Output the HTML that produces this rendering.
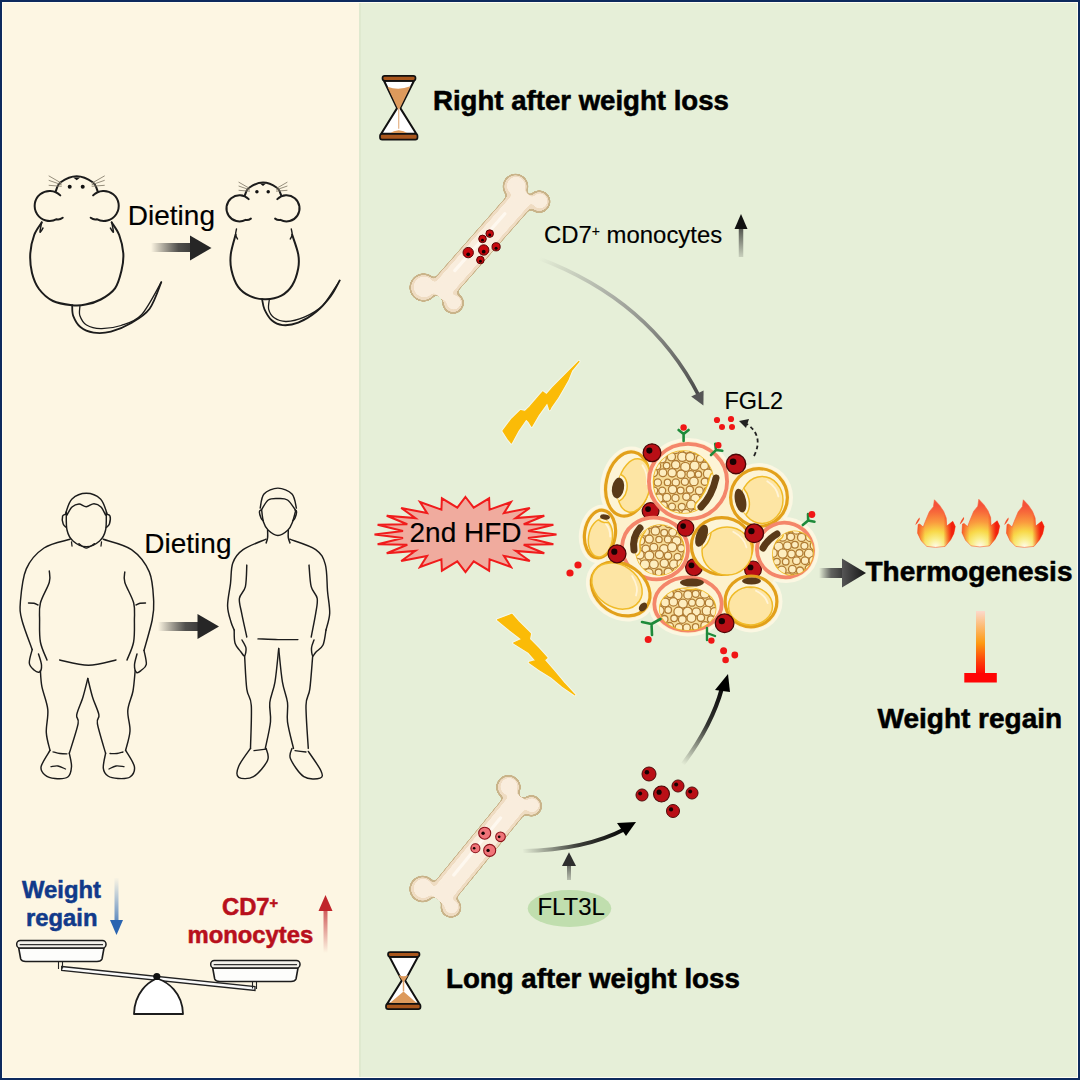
<!DOCTYPE html>
<html><head><meta charset="utf-8"><style>
html,body{margin:0;padding:0;width:1080px;height:1080px;overflow:hidden;background:#fff}
svg{display:block}
text{font-family:"Liberation Sans", sans-serif}
</style></head><body>
<svg width="1080" height="1080" viewBox="0 0 1080 1080">

<defs>
 <linearGradient id="gArrL" x1="0" x2="1" y1="0" y2="0">
  <stop offset="0" stop-color="#333" stop-opacity="0"/>
  <stop offset="0.55" stop-color="#333" stop-opacity="0.9"/>
  <stop offset="1" stop-color="#222"/>
 </linearGradient>
</defs>

<rect x="0" y="0" width="1080" height="1080" fill="#0d2a5e"/>
<rect x="2" y="2" width="1076" height="1076" fill="#fffdf2"/>
<rect x="3" y="3" width="356" height="1074" fill="#fdf6e3"/>
<rect x="359" y="3" width="718" height="1074" fill="#e6efd8"/><rect x="359" y="3" width="2" height="1074" fill="#dfe9cf"/>
<path d="M384.0,80.8 L414.0,80.8 L400.3,108.1 L416.3,133.8 L381.2,133.8 L397.09999999999997,108.1 Z" fill="#fff" stroke="#111" stroke-width="2" stroke-linejoin="round"/><path d="M387.5,86.8 Q398.7,90.8 410.5,86.3 L399.5,109.1 L397.9,109.1 Z" fill="#dd9a5c"/><line x1="398.7" y1="108.1" x2="398.7" y2="128.8" stroke="#e6b88e" stroke-width="1.3"/><path d="M389,133.8 Q398.7,126.80000000000001 408.5,133.8 Z" fill="#dd9a5c"/><rect x="382.5" y="75.8" width="33.0" height="5.0" rx="2.2" fill="#a9561c" stroke="#111" stroke-width="1.7"/><rect x="380" y="133.8" width="37.5" height="5.799999999999983" rx="2.2" fill="#a9561c" stroke="#111" stroke-width="1.7"/>
<path d="M389.5,956.8 L418.0,956.8 L405.1,980.4 L419.3,1003.8 L387.2,1003.8 L401.9,980.4 Z" fill="#fff" stroke="#111" stroke-width="2" stroke-linejoin="round"/><path d="M398.5,974.9 Q403.5,977.4 408.5,974.9 L404.5,980.9 L402.5,980.9 Z" fill="#dd9a5c"/><line x1="403.5" y1="980.4" x2="403.5" y2="991.4" stroke="#e2a46c" stroke-width="1.5"/><path d="M389,1003.8 L403.5,991.4 L417.5,1003.8 Z" fill="#dd9a5c"/><rect x="388" y="952.2" width="31.5" height="4.599999999999909" rx="2.2" fill="#a9561c" stroke="#111" stroke-width="1.7"/><rect x="386" y="1003.8" width="34.5" height="5.400000000000091" rx="2.2" fill="#a9561c" stroke="#111" stroke-width="1.7"/>
<defs><filter id="goo" x="-20%" y="-20%" width="140%" height="140%"><feGaussianBlur in="SourceGraphic" stdDeviation="2.2"/><feColorMatrix mode="matrix" values="1 0 0 0 0  0 1 0 0 0  0 0 1 0 0  0 0 0 18 -8"/></filter></defs>
<g filter="url(#goo)"><g fill="#c9b48a" stroke="#c9b48a" stroke-width="2.2" stroke-linejoin="round"><circle cx="515.5" cy="186.5" r="11.9"/><circle cx="539.2" cy="201.6" r="10.299999999999999"/><circle cx="423.5" cy="287.5" r="13.1"/><circle cx="453.1" cy="303" r="9.9"/><path d="M512.9,189.5 L512.1,209.8 L536.6,204.6 Z"/><path d="M426.1,284.5 L451.8,278.4 L455.7,300.0 Z"/><path d="M437.3,294.9 L526.6,193.3" stroke-width="26.2"/></g></g>
<g filter="url(#goo)"><g fill="#efdcc2" stroke="#efdcc2" stroke-width="0.4" stroke-linejoin="round"><circle cx="515.5" cy="186.5" r="11.0"/><circle cx="539.2" cy="201.6" r="9.399999999999999"/><circle cx="423.5" cy="287.5" r="12.2"/><circle cx="453.1" cy="303" r="9.0"/><path d="M512.9,189.5 L512.1,209.8 L536.6,204.6 Z"/><path d="M426.1,284.5 L451.8,278.4 L455.7,300.0 Z"/><path d="M437.3,294.9 L526.6,193.3" stroke-width="24.4"/></g></g>
<g filter="url(#goo)"><g fill="#f9eddd" stroke="#f9eddd"><circle cx="516.1" cy="185.9" r="8.8"/><circle cx="539.8000000000001" cy="201.0" r="7.199999999999999"/><circle cx="424.1" cy="286.9" r="10"/><circle cx="453.70000000000005" cy="302.4" r="6.800000000000001"/><path d="M437.3,294.9 L526.6,193.3" stroke-width="19"/></g></g>
<path d="M454.8,270.6 L504.8,213.8" stroke="#fffaf3" stroke-width="3.2" stroke-linecap="round" opacity="0.85"/>
<circle cx="489.7" cy="233.6" r="3.8" fill="#c8080e" stroke="#5a0505" stroke-width="1"/><circle cx="489.7" cy="234.89" r="1.42" fill="#120202"/>
<circle cx="482.5" cy="238.9" r="3.8" fill="#c8080e" stroke="#5a0505" stroke-width="1"/><circle cx="482.5" cy="240.19" r="1.42" fill="#120202"/>
<circle cx="483.7" cy="250" r="5.2" fill="#c8080e" stroke="#5a0505" stroke-width="1"/><circle cx="483.7" cy="251.71" r="1.88" fill="#120202"/>
<circle cx="468.2" cy="252.6" r="5.2" fill="#c8080e" stroke="#5a0505" stroke-width="1"/><circle cx="468.2" cy="254.31" r="1.88" fill="#120202"/>
<circle cx="496.1" cy="246.8" r="4.1" fill="#c8080e" stroke="#5a0505" stroke-width="1"/><circle cx="496.1" cy="248.18" r="1.52" fill="#120202"/>
<circle cx="480.4" cy="260" r="3.8" fill="#c8080e" stroke="#5a0505" stroke-width="1"/><circle cx="480.4" cy="261.29" r="1.42" fill="#120202"/>
<g filter="url(#goo)"><g fill="#c9b48a" stroke="#c9b48a" stroke-width="2.2" stroke-linejoin="round"><circle cx="508.4" cy="787.2" r="11.299999999999999"/><circle cx="531.4" cy="805.9" r="9.7"/><circle cx="422.6" cy="889" r="12.299999999999999"/><circle cx="451" cy="907.4" r="9.5"/><path d="M505.9,790.3 L507.2,814.4 L528.9,809.0 Z"/><path d="M425.1,885.9 L451.7,882.4 L453.5,904.3 Z"/><path d="M437.8,899.4 L521.1,797.4" stroke-width="27.2"/></g></g>
<g filter="url(#goo)"><g fill="#efdcc2" stroke="#efdcc2" stroke-width="0.4" stroke-linejoin="round"><circle cx="508.4" cy="787.2" r="10.399999999999999"/><circle cx="531.4" cy="805.9" r="8.799999999999999"/><circle cx="422.6" cy="889" r="11.399999999999999"/><circle cx="451" cy="907.4" r="8.6"/><path d="M505.9,790.3 L507.2,814.4 L528.9,809.0 Z"/><path d="M425.1,885.9 L451.7,882.4 L453.5,904.3 Z"/><path d="M437.8,899.4 L521.1,797.4" stroke-width="25.4"/></g></g>
<g filter="url(#goo)"><g fill="#f9eddd" stroke="#f9eddd"><circle cx="509.0" cy="786.6" r="8.2"/><circle cx="532.0" cy="805.3" r="6.6"/><circle cx="423.20000000000005" cy="888.4" r="9.2"/><circle cx="451.6" cy="906.8" r="6.4"/><path d="M437.8,899.4 L521.1,797.4" stroke-width="20"/></g></g>
<path d="M453.8,875.1 L500.5,817.9" stroke="#fffaf3" stroke-width="3.2" stroke-linecap="round" opacity="0.85"/>
<circle cx="484.7" cy="833.2" r="6.0" fill="#f07479" stroke="#8a1018" stroke-width="1.1"/><circle cx="483.07" cy="833.20" r="1.69" fill="#120202"/>
<circle cx="500.5" cy="836.8" r="4.8" fill="#f07479" stroke="#8a1018" stroke-width="1.1"/><circle cx="499.18" cy="836.80" r="1.38" fill="#120202"/>
<circle cx="475.4" cy="848.3" r="4.5" fill="#f07479" stroke="#8a1018" stroke-width="1.1"/><circle cx="474.15" cy="848.30" r="1.30" fill="#120202"/>
<circle cx="489.7" cy="850.4" r="6.0" fill="#f07479" stroke="#8a1018" stroke-width="1.1"/><circle cx="488.07" cy="850.40" r="1.69" fill="#120202"/>
<defs>
<linearGradient id="gA1" gradientUnits="userSpaceOnUse" x1="540" y1="258" x2="700" y2="400">
 <stop offset="0" stop-color="#777" stop-opacity="0"/><stop offset="0.35" stop-color="#888" stop-opacity="0.6"/><stop offset="1" stop-color="#444"/></linearGradient>
<linearGradient id="gUp1" gradientUnits="userSpaceOnUse" x1="0" y1="257" x2="0" y2="214">
 <stop offset="0" stop-color="#222" stop-opacity="0.15"/><stop offset="1" stop-color="#111"/></linearGradient>
<linearGradient id="gA2" gradientUnits="userSpaceOnUse" x1="522" y1="850" x2="630" y2="825">
 <stop offset="0" stop-color="#111" stop-opacity="0"/><stop offset="0.5" stop-color="#111" stop-opacity="0.8"/><stop offset="1" stop-color="#000"/></linearGradient>
<linearGradient id="gA3" gradientUnits="userSpaceOnUse" x1="683" y1="765" x2="725" y2="680">
 <stop offset="0" stop-color="#111" stop-opacity="0"/><stop offset="0.5" stop-color="#111" stop-opacity="0.85"/><stop offset="1" stop-color="#000"/></linearGradient>
<linearGradient id="gUp2" gradientUnits="userSpaceOnUse" x1="0" y1="882" x2="0" y2="853">
 <stop offset="0" stop-color="#333" stop-opacity="0.2"/><stop offset="1" stop-color="#222"/></linearGradient>
<linearGradient id="gRt" gradientUnits="userSpaceOnUse" x1="819" y1="0" x2="843" y2="0">
 <stop offset="0" stop-color="#444" stop-opacity="0"/><stop offset="0.5" stop-color="#4a4a4a" stop-opacity="0.85"/><stop offset="1" stop-color="#3a3a3a"/></linearGradient>
<linearGradient id="gInh" gradientUnits="userSpaceOnUse" x1="0" y1="611" x2="0" y2="675">
 <stop offset="0" stop-color="#fcd9cc"/><stop offset="0.5" stop-color="#fd9a12"/><stop offset="0.8" stop-color="#fd3a0a"/><stop offset="1" stop-color="#ff0404"/></linearGradient>
<linearGradient id="gDietM" gradientUnits="userSpaceOnUse" x1="151" y1="0" x2="212" y2="0">
 <stop offset="0" stop-color="#222" stop-opacity="0"/><stop offset="0.45" stop-color="#333" stop-opacity="0.85"/><stop offset="1" stop-color="#1a1a1a"/></linearGradient>
<linearGradient id="gDietP" gradientUnits="userSpaceOnUse" x1="158" y1="0" x2="219" y2="0">
 <stop offset="0" stop-color="#222" stop-opacity="0"/><stop offset="0.45" stop-color="#333" stop-opacity="0.85"/><stop offset="1" stop-color="#1a1a1a"/></linearGradient>
<linearGradient id="gBlue" gradientUnits="userSpaceOnUse" x1="0" y1="877" x2="0" y2="935">
 <stop offset="0" stop-color="#3a78c0" stop-opacity="0"/><stop offset="1" stop-color="#2a64b0"/></linearGradient>
<linearGradient id="gRed" gradientUnits="userSpaceOnUse" x1="0" y1="953" x2="0" y2="895">
 <stop offset="0" stop-color="#c0252b" stop-opacity="0"/><stop offset="1" stop-color="#c0252b"/></linearGradient>
</defs>
<path d="M538,258 Q650,300 699,396" fill="none" stroke="url(#gA1)" stroke-width="3.6"/>
<path d="M703.4,405.5 L691.2,396.5 L703.6,390.6 Z" fill="#555"/>
<path d="M741,257 L741,226" stroke="url(#gUp1)" stroke-width="4.5"/><path d="M734.5,229 L741,214 L747.5,229 Z" fill="#111"/>
<path d="M523,851 Q585,850 625,829" fill="none" stroke="url(#gA2)" stroke-width="4"/>
<path d="M636,822 L617,823 L626,836 Z" fill="#000"/>
<path d="M569,880 L569,864" stroke="url(#gUp2)" stroke-width="4"/><path d="M562,866 L569,852.2 L576,866 Z" fill="#2e2e2e"/>
<path d="M683,764 Q712,725 722,688" fill="none" stroke="url(#gA3)" stroke-width="4.2"/>
<path d="M728,674 L715,690 L730,692 Z" fill="#000"/>
<ellipse cx="569.5" cy="908.5" rx="41.8" ry="18.5" fill="#c0deae"/>
<circle cx="649" cy="774" r="7.01" fill="#b90f16" stroke="#4a0606" stroke-width="0.98"/><circle cx="646.90" cy="772.35" r="2.25" fill="#160303"/>
<circle cx="642" cy="795" r="6.05" fill="#b90f16" stroke="#4a0606" stroke-width="0.90"/><circle cx="640.18" cy="793.57" r="1.95" fill="#160303"/>
<circle cx="661.5" cy="794" r="7.95" fill="#b90f16" stroke="#4a0606" stroke-width="1.10"/><circle cx="659.12" cy="792.13" r="2.55" fill="#160303"/>
<circle cx="678" cy="786" r="6.05" fill="#b90f16" stroke="#4a0606" stroke-width="0.90"/><circle cx="676.18" cy="784.57" r="1.95" fill="#160303"/>
<circle cx="692" cy="793" r="6.05" fill="#b90f16" stroke="#4a0606" stroke-width="0.90"/><circle cx="690.18" cy="791.57" r="1.95" fill="#160303"/>
<circle cx="673" cy="811" r="6.54" fill="#b90f16" stroke="#4a0606" stroke-width="0.91"/><circle cx="671.04" cy="809.46" r="2.10" fill="#160303"/>
<defs><linearGradient id="gRtH" gradientUnits="userSpaceOnUse" x1="842" y1="0" x2="866" y2="0"><stop offset="0" stop-color="#555"/><stop offset="1" stop-color="#151515"/></linearGradient></defs>
<path d="M819,568 L843,568 L843,578 L819,578 Z" fill="url(#gRt)"/><path d="M842,558.5 L866,573 L842,587.5 Z" fill="url(#gRtH)"/>
<rect x="976" y="611" width="9" height="64" fill="url(#gInh)"/><rect x="964.3" y="673" width="32.5" height="9.5" fill="#ff0505"/>
<path d="M151,243 L192,243 L192,252 L151,252 Z" fill="url(#gDietM)"/><path d="M190,235.5 L211.5,248 L190,260.5 Z" fill="#262626"/>
<path d="M158,622 L199,622 L199,631 L158,631 Z" fill="url(#gDietP)"/><path d="M197.5,614 L219,626.5 L197.5,639 Z" fill="#262626"/>
<path d="M116.5,878 L116.5,922" stroke="url(#gBlue)" stroke-width="4"/><path d="M110,920 L116.5,935 L123,920 Z" fill="#2a64b0"/>
<path d="M325.5,953 L325.5,908" stroke="url(#gRed)" stroke-width="4"/><path d="M318.5,911 L325.5,895 L332.5,911 Z" fill="#c0252b"/>
<polygon points="465.5,497.0 473.7,507.7 489.1,498.3 489.6,509.6 511.0,502.0 503.9,513.1 529.8,508.0 515.5,518.1 544.3,515.8 523.7,524.2 553.4,524.8 528.0,531.0 556.5,534.5 528.0,538.0 553.4,544.2 523.7,544.8 544.3,553.2 515.5,550.9 529.8,561.0 503.9,555.9 511.0,567.0 489.6,559.4 489.1,570.7 473.7,561.3 465.5,572.0 457.3,561.3 441.9,570.7 441.4,559.4 420.0,567.0 427.1,555.9 401.2,561.0 415.5,550.9 386.7,553.2 407.3,544.8 377.6,544.2 403.0,538.0 374.5,534.5 403.0,531.0 377.6,524.8 407.3,524.2 386.7,515.8 415.5,518.1 401.2,508.0 427.1,513.1 420.0,502.0 441.4,509.6 441.9,498.3 457.3,507.7" fill="#f0ab9e" stroke="#f01c1c" stroke-width="2" stroke-linejoin="miter"/>
<polygon points="578.9,361.5 571.5,370.7 567.8,380 563.1,388.3 557.6,397.6 551.1,406.9 549.7,409.6 547.4,402.2 538.1,415.2 531.7,426.3 528.9,421.7 526.1,418.9 517.8,430.9 511.3,443 507.6,438.3 503,430.9 511.3,419.8 520.6,410.6 525.2,411.5 529.8,406.9 536.3,399.4 542.8,392 546.5,394.8 553,387.4 562.2,378.1 570.6,369.8" fill="#f4f7ea" stroke="#f4f7ea" stroke-width="3.2" stroke-linejoin="round"/>
<polygon points="578.9,361.5 571.5,370.7 567.8,380 563.1,388.3 557.6,397.6 551.1,406.9 549.7,409.6 547.4,402.2 538.1,415.2 531.7,426.3 528.9,421.7 526.1,418.9 517.8,430.9 511.3,443 507.6,438.3 503,430.9 511.3,419.8 520.6,410.6 525.2,411.5 529.8,406.9 536.3,399.4 542.8,392 546.5,394.8 553,387.4 562.2,378.1 570.6,369.8" fill="#fbbb07" stroke="#fbbb07" stroke-width="1.2" stroke-linejoin="round"/>
<polygon points="497.5,619.8 511.9,614.3 518.3,621.7 530.4,633.7 529.4,639.3 537.8,647.6 547,657.8 544.3,660.1 553.5,670.7 563.7,682.8 574.8,694.8 562.8,686.5 551.7,677.2 539.6,669.8 529.4,662.4 535.9,660.6 528.5,652.2 513.7,643 522,639.3 510,630" fill="#f4f7ea" stroke="#f4f7ea" stroke-width="3.2" stroke-linejoin="round"/>
<polygon points="497.5,619.8 511.9,614.3 518.3,621.7 530.4,633.7 529.4,639.3 537.8,647.6 547,657.8 544.3,660.1 553.5,670.7 563.7,682.8 574.8,694.8 562.8,686.5 551.7,677.2 539.6,669.8 529.4,662.4 535.9,660.6 528.5,652.2 513.7,643 522,639.3 510,630" fill="#fbbb07" stroke="#fbbb07" stroke-width="1.2" stroke-linejoin="round"/>
<defs><radialGradient id="gFl" cx="0.48" cy="0.92" r="0.9" fx="0.48" fy="0.95">
<stop offset="0" stop-color="#fffbe8"/><stop offset="0.18" stop-color="#fff07a"/><stop offset="0.42" stop-color="#fdb340"/><stop offset="0.7" stop-color="#f8703a"/><stop offset="1" stop-color="#f03a22"/></radialGradient>
<linearGradient id="gFlS" x1="0" y1="0" x2="1" y2="0"><stop offset="0" stop-color="#f55"/><stop offset="1" stop-color="#f22"/></linearGradient></defs>
<defs><radialGradient id="gFl2" gradientUnits="userSpaceOnUse" cx="21" cy="46" r="40" fx="21" fy="47">
<stop offset="0" stop-color="#fffbea"/><stop offset="0.2" stop-color="#f9ee8a"/><stop offset="0.38" stop-color="#f8d848"/><stop offset="0.6" stop-color="#fa9a3e"/><stop offset="0.85" stop-color="#f7683a"/><stop offset="1" stop-color="#f5523a"/></radialGradient>
<linearGradient id="gFlR" gradientUnits="userSpaceOnUse" x1="0" y1="0" x2="41" y2="0"><stop offset="0" stop-color="#f53a1a" stop-opacity="0.9"/><stop offset="0.25" stop-color="#f53a1a" stop-opacity="0"/><stop offset="0.7" stop-color="#f21a0a" stop-opacity="0"/><stop offset="0.9" stop-color="#f21a0a" stop-opacity="0.95"/></linearGradient></defs>
<g transform="translate(914.7,499.7)"><path d="M19.7,0.1 L24.8,5.5 L28.9,11.6 L31.5,18.2 L32,26.4 L38.1,21.5 L40.6,26.9 L39.1,34 L36,40.1 L30.4,46.7 L20.8,47.7 L12.1,46.7 L6.5,41.1 L2.9,33.5 L3.4,24.8 L5,24.3 L8.5,27.4 L10.6,21.8 L14.6,12.1 L18.7,7 Z" fill="url(#gFl2)" stroke="#f8623a" stroke-width="0.6" stroke-linejoin="round"/><path d="M19.7,0.1 L24.8,5.5 L28.9,11.6 L31.5,18.2 L32,26.4 L38.1,21.5 L40.6,26.9 L39.1,34 L36,40.1 L30.4,46.7 L20.8,47.7 L12.1,46.7 L6.5,41.1 L2.9,33.5 L3.4,24.8 L5,24.3 L8.5,27.4 L10.6,21.8 L14.6,12.1 L18.7,7 Z" fill="url(#gFlR)"/><path d="M0.6,25.3 C1.5,22 3,19.5 4.8,17.8 C5.6,19.5 4,22.5 0.6,25.3 Z" fill="#f4502a"/></g>
<g transform="translate(959.1,499.2)"><path d="M19.7,0.1 L24.8,5.5 L28.9,11.6 L31.5,18.2 L32,26.4 L38.1,21.5 L40.6,26.9 L39.1,34 L36,40.1 L30.4,46.7 L20.8,47.7 L12.1,46.7 L6.5,41.1 L2.9,33.5 L3.4,24.8 L5,24.3 L8.5,27.4 L10.6,21.8 L14.6,12.1 L18.7,7 Z" fill="url(#gFl2)" stroke="#f8623a" stroke-width="0.6" stroke-linejoin="round"/><path d="M19.7,0.1 L24.8,5.5 L28.9,11.6 L31.5,18.2 L32,26.4 L38.1,21.5 L40.6,26.9 L39.1,34 L36,40.1 L30.4,46.7 L20.8,47.7 L12.1,46.7 L6.5,41.1 L2.9,33.5 L3.4,24.8 L5,24.3 L8.5,27.4 L10.6,21.8 L14.6,12.1 L18.7,7 Z" fill="url(#gFlR)"/><path d="M0.6,25.3 C1.5,22 3,19.5 4.8,17.8 C5.6,19.5 4,22.5 0.6,25.3 Z" fill="#f4502a"/></g>
<g transform="translate(1003.6,499.7)"><path d="M19.7,0.1 L24.8,5.5 L28.9,11.6 L31.5,18.2 L32,26.4 L38.1,21.5 L40.6,26.9 L39.1,34 L36,40.1 L30.4,46.7 L20.8,47.7 L12.1,46.7 L6.5,41.1 L2.9,33.5 L3.4,24.8 L5,24.3 L8.5,27.4 L10.6,21.8 L14.6,12.1 L18.7,7 Z" fill="url(#gFl2)" stroke="#f8623a" stroke-width="0.6" stroke-linejoin="round"/><path d="M19.7,0.1 L24.8,5.5 L28.9,11.6 L31.5,18.2 L32,26.4 L38.1,21.5 L40.6,26.9 L39.1,34 L36,40.1 L30.4,46.7 L20.8,47.7 L12.1,46.7 L6.5,41.1 L2.9,33.5 L3.4,24.8 L5,24.3 L8.5,27.4 L10.6,21.8 L14.6,12.1 L18.7,7 Z" fill="url(#gFlR)"/><path d="M0.6,25.3 C1.5,22 3,19.5 4.8,17.8 C5.6,19.5 4,22.5 0.6,25.3 Z" fill="#f4502a"/></g>
<g fill="#fbf7e2"><ellipse cx="627.6" cy="484" rx="27" ry="38" transform="rotate(12 627.6 484)"/><ellipse cx="688" cy="481.5" rx="45" ry="43.5" transform="rotate(0 688 481.5)"/><ellipse cx="759" cy="497.5" rx="34" ry="34.5" transform="rotate(0 759 497.5)"/><ellipse cx="600" cy="534" rx="21" ry="29.5" transform="rotate(8 600 534)"/><ellipse cx="655" cy="548.5" rx="39" ry="36.5" transform="rotate(15 655 548.5)"/><ellipse cx="721.8" cy="546" rx="36" ry="34" transform="rotate(0 721.8 546)"/><ellipse cx="785" cy="550" rx="34" ry="33" transform="rotate(20 785 550)"/><ellipse cx="620.7" cy="589" rx="37" ry="30" transform="rotate(35 620.7 589)"/><ellipse cx="688" cy="604" rx="39.6" ry="32.5" transform="rotate(0 688 604)"/><ellipse cx="751" cy="601.4" rx="31.5" ry="31" transform="rotate(0 751 601.4)"/></g>
<ellipse cx="695" cy="540" rx="92" ry="78" fill="#fdf1cc"/>
<g fill="#fdf1cc"><ellipse cx="627.6" cy="484" rx="24" ry="35" transform="rotate(12 627.6 484)"/><ellipse cx="688" cy="481.5" rx="42" ry="40.5" transform="rotate(0 688 481.5)"/><ellipse cx="759" cy="497.5" rx="31" ry="31.5" transform="rotate(0 759 497.5)"/><ellipse cx="600" cy="534" rx="18" ry="26.5" transform="rotate(8 600 534)"/><ellipse cx="655" cy="548.5" rx="36" ry="33.5" transform="rotate(15 655 548.5)"/><ellipse cx="721.8" cy="546" rx="33" ry="31" transform="rotate(0 721.8 546)"/><ellipse cx="785" cy="550" rx="31" ry="30" transform="rotate(20 785 550)"/><ellipse cx="620.7" cy="589" rx="34" ry="27" transform="rotate(35 620.7 589)"/><ellipse cx="688" cy="604" rx="36.6" ry="29.5" transform="rotate(0 688 604)"/><ellipse cx="751" cy="601.4" rx="28.5" ry="28" transform="rotate(0 751 601.4)"/></g>
<circle cx="650.6" cy="511" r="8.41" fill="#b90f16" stroke="#4a0606" stroke-width="1.17"/><circle cx="648.08" cy="509.02" r="2.88" fill="#160303"/>
<circle cx="694" cy="567.3" r="8.41" fill="#b90f16" stroke="#4a0606" stroke-width="1.17"/><circle cx="691.48" cy="565.32" r="2.88" fill="#160303"/>
<circle cx="753" cy="569.4" r="8.41" fill="#b90f16" stroke="#4a0606" stroke-width="1.17"/><circle cx="750.48" cy="567.42" r="2.88" fill="#160303"/>
<ellipse cx="627.6" cy="484" rx="21.4" ry="32.4" transform="rotate(12 627.6 484)" fill="#fdf4d6" stroke="#e2a01a" stroke-width="3.2"/>
<clipPath id="clipD0"><ellipse cx="634" cy="485.5" rx="16" ry="27" transform="rotate(12 634 485.5)"/></clipPath>
<ellipse cx="634" cy="485.5" rx="16" ry="27" transform="rotate(12 634 485.5)" fill="#fde5a4" stroke="#f0bb28" stroke-width="1.5"/>
<path d="M638.0,463.9 Q645.2,470.65 646.48,481.45" fill="none" stroke="#fff4d8" stroke-width="1.8" stroke-linecap="round" transform="rotate(12 634 485.5)"/>
<g clip-path="url(#clipD0)"><ellipse cx="618" cy="488" rx="9" ry="13.5" transform="rotate(10 618 488)" fill="#fdf4d6" stroke="#f0bb28" stroke-width="1.5"/></g>
<ellipse cx="618" cy="488" rx="6" ry="10.5" transform="rotate(10 618 488)" fill="#5a3a18"/>
<ellipse cx="688" cy="481.5" rx="39.1" ry="37.6" transform="rotate(0 688 481.5)" fill="#fdf4d6" stroke="#f4866a" stroke-width="3.8"/>
<clipPath id="clipD1"><ellipse cx="683.5" cy="482" rx="30" ry="31" transform="rotate(0 683.5 482)"/></clipPath>
<ellipse cx="683.5" cy="482" rx="30" ry="31" transform="rotate(0 683.5 482)" fill="#f6dc98" stroke="#f0bb28" stroke-width="1.5"/>
<g clip-path="url(#clipD1)" fill="#fdedbf" stroke="#b07c34" stroke-width="1.3"><circle cx="644.4" cy="441.5" r="3.6"/><circle cx="653.8" cy="440.8" r="4.2"/><circle cx="663.5" cy="441.2" r="3.2"/><circle cx="673.1" cy="441.7" r="3.6"/><circle cx="681.0" cy="442.1" r="4.5"/><circle cx="690.6" cy="442.7" r="3.4"/><circle cx="700.1" cy="442.2" r="4.0"/><circle cx="709.3" cy="442.0" r="3.3"/><circle cx="716.8" cy="442.7" r="3.7"/><circle cx="649.4" cy="450.7" r="4.0"/><circle cx="659.1" cy="449.6" r="4.3"/><circle cx="667.2" cy="450.8" r="4.5"/><circle cx="675.5" cy="448.9" r="4.6"/><circle cx="686.8" cy="449.7" r="3.5"/><circle cx="694.4" cy="449.8" r="4.2"/><circle cx="703.7" cy="450.0" r="3.8"/><circle cx="714.3" cy="450.2" r="4.1"/><circle cx="723.4" cy="451.0" r="4.7"/><circle cx="643.5" cy="458.7" r="4.3"/><circle cx="654.5" cy="458.0" r="4.7"/><circle cx="662.0" cy="458.6" r="4.3"/><circle cx="671.4" cy="456.8" r="4.1"/><circle cx="682.3" cy="456.8" r="4.6"/><circle cx="690.1" cy="457.0" r="4.5"/><circle cx="700.1" cy="458.7" r="3.7"/><circle cx="709.0" cy="456.7" r="3.3"/><circle cx="717.5" cy="458.7" r="4.3"/><circle cx="648.9" cy="467.0" r="4.8"/><circle cx="657.1" cy="466.1" r="3.7"/><circle cx="666.6" cy="465.6" r="3.3"/><circle cx="675.7" cy="464.7" r="4.2"/><circle cx="685.3" cy="466.9" r="4.6"/><circle cx="694.6" cy="465.7" r="4.6"/><circle cx="704.4" cy="466.0" r="4.0"/><circle cx="713.6" cy="466.9" r="4.1"/><circle cx="722.3" cy="466.3" r="4.0"/><circle cx="643.8" cy="475.0" r="3.6"/><circle cx="653.6" cy="472.6" r="4.0"/><circle cx="662.9" cy="472.7" r="3.9"/><circle cx="672.2" cy="472.8" r="4.2"/><circle cx="681.0" cy="474.2" r="4.2"/><circle cx="690.8" cy="474.4" r="3.8"/><circle cx="698.4" cy="474.2" r="3.2"/><circle cx="708.1" cy="473.7" r="4.7"/><circle cx="717.5" cy="473.5" r="4.1"/><circle cx="648.6" cy="482.0" r="3.7"/><circle cx="657.8" cy="482.5" r="3.7"/><circle cx="667.5" cy="482.4" r="3.2"/><circle cx="675.8" cy="482.5" r="3.7"/><circle cx="684.9" cy="481.7" r="3.6"/><circle cx="693.9" cy="481.4" r="4.3"/><circle cx="704.9" cy="481.7" r="3.7"/><circle cx="712.5" cy="481.4" r="4.6"/><circle cx="723.4" cy="481.7" r="4.2"/><circle cx="643.4" cy="489.9" r="3.6"/><circle cx="654.2" cy="490.6" r="3.5"/><circle cx="662.2" cy="490.6" r="3.5"/><circle cx="672.6" cy="489.5" r="4.2"/><circle cx="680.6" cy="490.5" r="3.4"/><circle cx="689.9" cy="489.6" r="3.6"/><circle cx="699.3" cy="490.8" r="3.9"/><circle cx="707.5" cy="490.9" r="3.4"/><circle cx="719.1" cy="489.7" r="4.6"/><circle cx="649.9" cy="497.2" r="4.7"/><circle cx="658.9" cy="498.2" r="4.4"/><circle cx="666.8" cy="497.4" r="4.0"/><circle cx="675.5" cy="498.0" r="3.6"/><circle cx="686.4" cy="496.7" r="3.7"/><circle cx="695.4" cy="498.8" r="4.6"/><circle cx="705.1" cy="498.0" r="4.6"/><circle cx="713.9" cy="497.0" r="3.2"/><circle cx="722.9" cy="497.9" r="3.7"/><circle cx="645.4" cy="506.1" r="3.9"/><circle cx="652.9" cy="506.7" r="3.7"/><circle cx="663.4" cy="505.5" r="4.0"/><circle cx="672.0" cy="506.6" r="3.5"/><circle cx="681.8" cy="506.8" r="3.5"/><circle cx="691.1" cy="504.7" r="4.5"/><circle cx="700.4" cy="504.8" r="4.2"/><circle cx="708.1" cy="505.9" r="3.6"/><circle cx="717.8" cy="506.5" r="3.9"/><circle cx="647.8" cy="512.9" r="3.2"/><circle cx="657.1" cy="515.0" r="3.4"/><circle cx="666.3" cy="513.8" r="4.6"/><circle cx="676.1" cy="513.5" r="3.7"/><circle cx="685.9" cy="513.5" r="4.2"/><circle cx="694.5" cy="512.9" r="3.5"/><circle cx="704.6" cy="513.5" r="4.1"/><circle cx="712.5" cy="513.5" r="3.3"/><circle cx="723.2" cy="513.5" r="4.2"/><circle cx="644.6" cy="521.7" r="4.5"/><circle cx="653.5" cy="522.3" r="3.8"/><circle cx="663.2" cy="521.7" r="3.9"/><circle cx="672.0" cy="522.3" r="3.6"/><circle cx="680.9" cy="521.7" r="3.3"/><circle cx="691.3" cy="521.5" r="4.6"/><circle cx="700.2" cy="521.3" r="4.6"/><circle cx="707.8" cy="522.6" r="3.9"/><circle cx="718.8" cy="522.5" r="4.3"/></g>
<g clip-path="url(#clipD1)"><path d="M716,478 Q712,496 701,507" fill="none" stroke="#f0bb28" stroke-width="14" stroke-linecap="round"/><path d="M716,478 Q712,496 701,507" fill="none" stroke="#fdf4d6" stroke-width="11" stroke-linecap="round"/></g>
<path d="M716,478 Q712,496 701,507" fill="none" stroke="#5a3a18" stroke-width="7" stroke-linecap="round"/>
<ellipse cx="759" cy="497.5" rx="28.4" ry="28.9" transform="rotate(0 759 497.5)" fill="#fdf4d6" stroke="#e2a01a" stroke-width="3.2"/>
<clipPath id="clipD2"><ellipse cx="762" cy="500" rx="21" ry="23.5" transform="rotate(0 762 500)"/></clipPath>
<ellipse cx="762" cy="500" rx="21" ry="23.5" transform="rotate(0 762 500)" fill="#fde5a4" stroke="#f0bb28" stroke-width="1.5"/>
<path d="M767.25,481.2 Q776.7,487.075 778.38,496.475" fill="none" stroke="#fff4d8" stroke-width="1.8" stroke-linecap="round" transform="rotate(0 762 500)"/>
<g clip-path="url(#clipD2)"><ellipse cx="740.5" cy="500.6" rx="8.5" ry="15" transform="rotate(-12 740.5 500.6)" fill="#fdf4d6" stroke="#f0bb28" stroke-width="1.5"/></g>
<ellipse cx="740.5" cy="500.6" rx="5.5" ry="12" transform="rotate(-12 740.5 500.6)" fill="#5a3a18"/>
<ellipse cx="600" cy="534" rx="15.4" ry="23.9" transform="rotate(8 600 534)" fill="#fdf4d6" stroke="#e2a01a" stroke-width="3.2"/>
<clipPath id="clipD3"><ellipse cx="600.5" cy="538" rx="12" ry="19" transform="rotate(8 600.5 538)"/></clipPath>
<ellipse cx="600.5" cy="538" rx="12" ry="19" transform="rotate(8 600.5 538)" fill="#fde5a4" stroke="#f0bb28" stroke-width="1.5"/>
<path d="M603.5,522.8 Q608.9,527.55 609.86,535.15" fill="none" stroke="#fff4d8" stroke-width="1.8" stroke-linecap="round" transform="rotate(8 600.5 538)"/>
<g clip-path="url(#clipD3)"><ellipse cx="605" cy="517" rx="8" ry="5.5" transform="rotate(10 605 517)" fill="#fdf4d6" stroke="#f0bb28" stroke-width="1.5"/></g>
<ellipse cx="605" cy="517" rx="5" ry="2.5" transform="rotate(10 605 517)" fill="#5a3a18"/>
<ellipse cx="655" cy="548.5" rx="33.1" ry="30.6" transform="rotate(15 655 548.5)" fill="#fdf4d6" stroke="#f4866a" stroke-width="3.8"/>
<clipPath id="clipD4"><ellipse cx="660" cy="550" rx="24" ry="25" transform="rotate(15 660 550)"/></clipPath>
<ellipse cx="660" cy="550" rx="24" ry="25" transform="rotate(15 660 550)" fill="#f6dc98" stroke="#f0bb28" stroke-width="1.5"/>
<g clip-path="url(#clipD4)" fill="#fdedbf" stroke="#b07c34" stroke-width="1.3"><circle cx="627.4" cy="516.0" r="4.3"/><circle cx="636.2" cy="514.6" r="3.4"/><circle cx="645.9" cy="514.7" r="3.4"/><circle cx="653.4" cy="516.7" r="3.3"/><circle cx="662.5" cy="516.6" r="3.5"/><circle cx="673.6" cy="516.2" r="3.4"/><circle cx="683.1" cy="516.0" r="4.5"/><circle cx="690.1" cy="516.4" r="4.5"/><circle cx="631.9" cy="522.9" r="4.0"/><circle cx="641.6" cy="522.8" r="4.4"/><circle cx="650.0" cy="524.6" r="3.7"/><circle cx="658.2" cy="523.2" r="3.6"/><circle cx="668.8" cy="523.5" r="4.2"/><circle cx="677.2" cy="523.4" r="3.8"/><circle cx="685.6" cy="523.8" r="3.9"/><circle cx="626.6" cy="532.4" r="4.8"/><circle cx="636.5" cy="532.4" r="3.5"/><circle cx="645.2" cy="531.8" r="4.3"/><circle cx="655.4" cy="531.0" r="4.2"/><circle cx="664.2" cy="532.8" r="3.4"/><circle cx="672.7" cy="532.3" r="4.0"/><circle cx="681.4" cy="531.1" r="3.5"/><circle cx="690.8" cy="531.2" r="4.1"/><circle cx="632.5" cy="539.3" r="4.3"/><circle cx="640.4" cy="540.7" r="4.3"/><circle cx="649.2" cy="539.1" r="4.1"/><circle cx="659.0" cy="539.5" r="3.2"/><circle cx="667.9" cy="539.4" r="3.5"/><circle cx="676.5" cy="541.0" r="4.4"/><circle cx="686.8" cy="539.7" r="4.0"/><circle cx="627.6" cy="548.0" r="4.5"/><circle cx="636.5" cy="548.7" r="4.0"/><circle cx="645.8" cy="548.9" r="3.8"/><circle cx="653.8" cy="547.2" r="3.9"/><circle cx="664.0" cy="548.9" r="4.3"/><circle cx="672.2" cy="547.1" r="4.6"/><circle cx="681.2" cy="548.3" r="3.6"/><circle cx="692.2" cy="547.2" r="4.6"/><circle cx="631.0" cy="555.6" r="4.6"/><circle cx="639.6" cy="554.8" r="4.4"/><circle cx="649.3" cy="555.5" r="4.5"/><circle cx="659.4" cy="554.6" r="4.1"/><circle cx="668.0" cy="555.8" r="3.7"/><circle cx="677.6" cy="556.9" r="3.5"/><circle cx="686.7" cy="554.9" r="3.8"/><circle cx="627.2" cy="562.9" r="3.6"/><circle cx="637.0" cy="562.9" r="4.6"/><circle cx="644.9" cy="564.5" r="4.7"/><circle cx="653.9" cy="564.2" r="4.4"/><circle cx="664.3" cy="563.3" r="4.2"/><circle cx="673.9" cy="564.2" r="4.4"/><circle cx="681.1" cy="563.8" r="4.1"/><circle cx="691.7" cy="564.3" r="3.8"/><circle cx="630.6" cy="572.2" r="4.1"/><circle cx="639.8" cy="572.8" r="4.2"/><circle cx="648.9" cy="572.9" r="4.2"/><circle cx="658.6" cy="572.4" r="3.4"/><circle cx="668.3" cy="572.2" r="4.2"/><circle cx="676.9" cy="571.1" r="3.9"/><circle cx="687.1" cy="572.4" r="3.3"/><circle cx="627.4" cy="579.5" r="4.1"/><circle cx="635.7" cy="580.7" r="3.6"/><circle cx="645.2" cy="579.2" r="3.3"/><circle cx="654.0" cy="579.4" r="4.4"/><circle cx="663.7" cy="580.5" r="3.8"/><circle cx="673.6" cy="578.9" r="3.8"/><circle cx="681.0" cy="578.9" r="3.6"/><circle cx="691.7" cy="579.1" r="4.4"/></g>
<g clip-path="url(#clipD4)"><path d="M640,528 Q632,537 634,550" fill="none" stroke="#f0bb28" stroke-width="14" stroke-linecap="round"/><path d="M640,528 Q632,537 634,550" fill="none" stroke="#fdf4d6" stroke-width="11" stroke-linecap="round"/></g>
<path d="M640,528 Q632,537 634,550" fill="none" stroke="#5a3a18" stroke-width="7" stroke-linecap="round"/>
<ellipse cx="721.8" cy="546" rx="30.4" ry="28.4" transform="rotate(0 721.8 546)" fill="#fdf4d6" stroke="#e2a01a" stroke-width="3.2"/>
<clipPath id="clipD5"><ellipse cx="727" cy="551" rx="25" ry="24" transform="rotate(0 727 551)"/></clipPath>
<ellipse cx="727" cy="551" rx="25" ry="24" transform="rotate(0 727 551)" fill="#fde5a4" stroke="#f0bb28" stroke-width="1.5"/>
<path d="M733.25,531.8 Q744.5,537.8 746.5,547.4" fill="none" stroke="#fff4d8" stroke-width="1.8" stroke-linecap="round" transform="rotate(0 727 551)"/>
<g clip-path="url(#clipD5)"><ellipse cx="701.6" cy="535.8" rx="8.5" ry="14.5" transform="rotate(20 701.6 535.8)" fill="#fdf4d6" stroke="#f0bb28" stroke-width="1.5"/></g>
<ellipse cx="701.6" cy="535.8" rx="5.5" ry="11.5" transform="rotate(20 701.6 535.8)" fill="#5a3a18"/>
<ellipse cx="785" cy="550" rx="28.1" ry="27.1" transform="rotate(20 785 550)" fill="#fdf4d6" stroke="#f4866a" stroke-width="3.8"/>
<clipPath id="clipD6"><ellipse cx="793" cy="553" rx="20" ry="22" transform="rotate(20 793 553)"/></clipPath>
<ellipse cx="793" cy="553" rx="20" ry="22" transform="rotate(20 793 553)" fill="#f6dc98" stroke="#f0bb28" stroke-width="1.5"/>
<g clip-path="url(#clipD6)" fill="#fdedbf" stroke="#b07c34" stroke-width="1.3"><circle cx="763.6" cy="522.4" r="3.5"/><circle cx="773.6" cy="522.0" r="4.5"/><circle cx="782.0" cy="521.1" r="3.4"/><circle cx="791.6" cy="521.1" r="4.0"/><circle cx="801.3" cy="520.7" r="3.6"/><circle cx="810.7" cy="522.9" r="4.5"/><circle cx="819.1" cy="522.0" r="3.8"/><circle cx="769.5" cy="530.3" r="4.2"/><circle cx="778.5" cy="529.8" r="3.7"/><circle cx="787.3" cy="528.6" r="4.2"/><circle cx="796.4" cy="529.8" r="4.4"/><circle cx="805.1" cy="529.1" r="4.0"/><circle cx="813.3" cy="529.8" r="4.0"/><circle cx="763.7" cy="538.0" r="4.2"/><circle cx="773.9" cy="536.9" r="4.7"/><circle cx="782.5" cy="536.7" r="4.5"/><circle cx="790.8" cy="536.8" r="3.8"/><circle cx="801.6" cy="537.4" r="4.1"/><circle cx="810.3" cy="536.9" r="4.6"/><circle cx="819.2" cy="538.8" r="4.6"/><circle cx="769.0" cy="545.4" r="4.3"/><circle cx="778.6" cy="546.7" r="4.5"/><circle cx="787.4" cy="545.8" r="3.9"/><circle cx="794.9" cy="544.8" r="3.4"/><circle cx="804.4" cy="545.8" r="3.5"/><circle cx="814.5" cy="545.6" r="4.3"/><circle cx="763.3" cy="553.7" r="4.2"/><circle cx="772.8" cy="553.0" r="4.4"/><circle cx="782.7" cy="553.5" r="4.6"/><circle cx="791.5" cy="554.0" r="3.8"/><circle cx="799.4" cy="553.1" r="3.6"/><circle cx="808.9" cy="553.7" r="4.5"/><circle cx="818.3" cy="553.0" r="3.5"/><circle cx="767.6" cy="560.7" r="3.8"/><circle cx="776.8" cy="561.8" r="3.4"/><circle cx="785.7" cy="561.7" r="3.3"/><circle cx="796.5" cy="560.7" r="3.9"/><circle cx="805.0" cy="560.7" r="3.8"/><circle cx="813.7" cy="560.8" r="4.7"/><circle cx="763.0" cy="570.1" r="4.0"/><circle cx="772.1" cy="568.7" r="3.8"/><circle cx="781.7" cy="570.5" r="4.4"/><circle cx="792.4" cy="569.3" r="3.9"/><circle cx="800.0" cy="570.6" r="3.6"/><circle cx="809.4" cy="568.8" r="4.2"/><circle cx="820.1" cy="570.0" r="4.3"/><circle cx="767.3" cy="576.8" r="3.2"/><circle cx="776.5" cy="576.8" r="3.5"/><circle cx="787.8" cy="577.1" r="4.2"/><circle cx="795.9" cy="578.6" r="4.8"/><circle cx="806.3" cy="576.7" r="4.7"/><circle cx="814.7" cy="578.9" r="3.7"/></g>
<g clip-path="url(#clipD6)"><path d="M777,534 Q768,539 763,548" fill="none" stroke="#f0bb28" stroke-width="14" stroke-linecap="round"/><path d="M777,534 Q768,539 763,548" fill="none" stroke="#fdf4d6" stroke-width="11" stroke-linecap="round"/></g>
<path d="M777,534 Q768,539 763,548" fill="none" stroke="#5a3a18" stroke-width="7" stroke-linecap="round"/>
<ellipse cx="620.7" cy="589" rx="31.4" ry="24.4" transform="rotate(35 620.7 589)" fill="#fdf4d6" stroke="#e2a01a" stroke-width="3.2"/>
<clipPath id="clipD7"><ellipse cx="617" cy="586" rx="27" ry="21" transform="rotate(35 617 586)"/></clipPath>
<ellipse cx="617" cy="586" rx="27" ry="21" transform="rotate(35 617 586)" fill="#fde5a4" stroke="#f0bb28" stroke-width="1.5"/>
<path d="M623.75,569.2 Q635.9,574.45 638.06,582.85" fill="none" stroke="#fff4d8" stroke-width="1.8" stroke-linecap="round" transform="rotate(35 617 586)"/>
<g clip-path="url(#clipD7)"><ellipse cx="643" cy="607" rx="8" ry="6.5" transform="rotate(-50 643 607)" fill="#fdf4d6" stroke="#f0bb28" stroke-width="1.5"/></g>
<ellipse cx="643" cy="607" rx="5" ry="3.5" transform="rotate(-50 643 607)" fill="#5a3a18"/>
<ellipse cx="688" cy="604" rx="33.7" ry="26.6" transform="rotate(0 688 604)" fill="#fdf4d6" stroke="#f4866a" stroke-width="3.8"/>
<clipPath id="clipD8"><ellipse cx="687.7" cy="609" rx="28" ry="21" transform="rotate(0 687.7 609)"/></clipPath>
<ellipse cx="687.7" cy="609" rx="28" ry="21" transform="rotate(0 687.7 609)" fill="#f6dc98" stroke="#f0bb28" stroke-width="1.5"/>
<g clip-path="url(#clipD8)" fill="#fdedbf" stroke="#b07c34" stroke-width="1.3"><circle cx="650.0" cy="579.6" r="3.3"/><circle cx="659.4" cy="578.4" r="3.4"/><circle cx="669.9" cy="578.0" r="4.3"/><circle cx="678.7" cy="579.6" r="4.4"/><circle cx="688.3" cy="578.5" r="4.1"/><circle cx="695.9" cy="579.5" r="3.9"/><circle cx="705.1" cy="578.0" r="4.0"/><circle cx="715.2" cy="579.3" r="4.4"/><circle cx="724.1" cy="578.0" r="3.8"/><circle cx="654.0" cy="586.7" r="4.3"/><circle cx="664.7" cy="585.8" r="4.4"/><circle cx="674.3" cy="587.1" r="3.6"/><circle cx="683.6" cy="586.7" r="4.6"/><circle cx="692.5" cy="586.4" r="4.6"/><circle cx="700.1" cy="586.6" r="3.8"/><circle cx="709.4" cy="587.0" r="4.7"/><circle cx="718.5" cy="587.2" r="3.4"/><circle cx="649.4" cy="594.0" r="3.6"/><circle cx="659.9" cy="593.6" r="4.2"/><circle cx="670.0" cy="594.1" r="3.6"/><circle cx="677.9" cy="595.5" r="4.1"/><circle cx="688.0" cy="594.9" r="4.2"/><circle cx="695.7" cy="593.8" r="3.5"/><circle cx="704.8" cy="593.7" r="4.5"/><circle cx="714.2" cy="595.8" r="4.7"/><circle cx="724.0" cy="594.1" r="3.3"/><circle cx="655.4" cy="603.2" r="4.5"/><circle cx="665.2" cy="602.4" r="4.4"/><circle cx="673.4" cy="601.9" r="4.2"/><circle cx="682.9" cy="603.6" r="4.5"/><circle cx="692.0" cy="602.7" r="3.5"/><circle cx="700.1" cy="602.4" r="4.4"/><circle cx="709.3" cy="602.9" r="4.0"/><circle cx="719.3" cy="603.2" r="4.4"/><circle cx="649.8" cy="610.5" r="4.2"/><circle cx="659.3" cy="610.6" r="4.8"/><circle cx="668.2" cy="610.0" r="3.3"/><circle cx="678.6" cy="611.7" r="4.7"/><circle cx="687.6" cy="611.9" r="4.8"/><circle cx="696.3" cy="611.9" r="4.1"/><circle cx="706.8" cy="610.8" r="4.6"/><circle cx="714.7" cy="612.0" r="4.4"/><circle cx="723.6" cy="611.9" r="4.7"/><circle cx="654.1" cy="619.4" r="3.5"/><circle cx="664.3" cy="619.2" r="3.7"/><circle cx="674.1" cy="618.3" r="3.3"/><circle cx="682.3" cy="619.4" r="3.9"/><circle cx="691.4" cy="617.9" r="4.4"/><circle cx="700.9" cy="617.8" r="3.7"/><circle cx="710.9" cy="619.3" r="3.4"/><circle cx="720.7" cy="619.7" r="4.8"/><circle cx="649.7" cy="626.4" r="3.8"/><circle cx="659.8" cy="626.9" r="3.9"/><circle cx="669.7" cy="626.3" r="3.8"/><circle cx="679.0" cy="627.6" r="3.9"/><circle cx="686.7" cy="627.6" r="3.7"/><circle cx="695.6" cy="626.9" r="3.2"/><circle cx="704.9" cy="625.7" r="4.1"/><circle cx="715.5" cy="626.7" r="3.5"/><circle cx="724.8" cy="628.0" r="4.8"/><circle cx="654.3" cy="633.7" r="3.3"/><circle cx="663.9" cy="633.8" r="3.9"/><circle cx="672.5" cy="634.4" r="4.1"/><circle cx="683.4" cy="634.6" r="3.6"/><circle cx="690.8" cy="634.7" r="3.6"/><circle cx="701.5" cy="635.8" r="4.2"/><circle cx="709.7" cy="634.0" r="4.5"/><circle cx="720.2" cy="634.8" r="4.4"/></g>
<g clip-path="url(#clipD8)"><ellipse cx="692" cy="582.6" rx="15" ry="7" transform="rotate(0 692 582.6)" fill="#fdf4d6" stroke="#f0bb28" stroke-width="1.5"/></g>
<ellipse cx="692" cy="582.6" rx="12" ry="4" transform="rotate(0 692 582.6)" fill="#5a3a18"/>
<ellipse cx="751" cy="601.4" rx="25.9" ry="25.4" transform="rotate(0 751 601.4)" fill="#fdf4d6" stroke="#e2a01a" stroke-width="3.2"/>
<clipPath id="clipD9"><ellipse cx="750.5" cy="606" rx="22" ry="19" transform="rotate(0 750.5 606)"/></clipPath>
<ellipse cx="750.5" cy="606" rx="22" ry="19" transform="rotate(0 750.5 606)" fill="#fde5a4" stroke="#f0bb28" stroke-width="1.5"/>
<path d="M756.0,590.8 Q765.9,595.55 767.66,603.15" fill="none" stroke="#fff4d8" stroke-width="1.8" stroke-linecap="round" transform="rotate(0 750.5 606)"/>
<g clip-path="url(#clipD9)"><ellipse cx="751.5" cy="581" rx="12.5" ry="6.5" transform="rotate(0 751.5 581)" fill="#fdf4d6" stroke="#f0bb28" stroke-width="1.5"/></g>
<ellipse cx="751.5" cy="581" rx="9.5" ry="3.5" transform="rotate(0 751.5 581)" fill="#5a3a18"/>
<circle cx="652" cy="452.7" r="8.88" fill="#b90f16" stroke="#4a0606" stroke-width="1.24"/><circle cx="649.34" cy="450.61" r="3.04" fill="#160303"/>
<circle cx="736" cy="464" r="9.72" fill="#b90f16" stroke="#4a0606" stroke-width="1.35"/><circle cx="733.09" cy="461.71" r="3.33" fill="#160303"/>
<circle cx="685.6" cy="528" r="8.23" fill="#b90f16" stroke="#4a0606" stroke-width="1.14"/><circle cx="683.14" cy="526.06" r="2.82" fill="#160303"/>
<circle cx="754.2" cy="533.3" r="9.35" fill="#b90f16" stroke="#4a0606" stroke-width="1.30"/><circle cx="751.40" cy="531.10" r="3.20" fill="#160303"/>
<circle cx="617" cy="553.8" r="8.98" fill="#b90f16" stroke="#4a0606" stroke-width="1.25"/><circle cx="614.31" cy="551.69" r="3.07" fill="#160303"/>
<circle cx="724.6" cy="623.3" r="9.35" fill="#b90f16" stroke="#4a0606" stroke-width="1.30"/><circle cx="721.80" cy="621.10" r="3.20" fill="#160303"/>
<g transform="translate(683.6,441) rotate(0)"><path d="M0,0 L0,-7 M0,-7 L-5,-11 M0,-7 L5,-11" stroke="#1e8a3a" stroke-width="2.6" fill="none" stroke-linecap="round"/></g>
<g transform="translate(711,455) rotate(45)"><path d="M0,0 L0,-7 M0,-7 L-5,-11 M0,-7 L5,-11" stroke="#1e8a3a" stroke-width="2.6" fill="none" stroke-linecap="round"/></g>
<g transform="translate(802.8,525) rotate(50)"><path d="M0,0 L0,-7 M0,-7 L-5,-11 M0,-7 L5,-11" stroke="#1e8a3a" stroke-width="2.6" fill="none" stroke-linecap="round"/></g>
<path d="M652,635 L651.5,624 M651.5,624 L642,622 M651.5,624 L660.5,619" stroke="#1e8a3a" stroke-width="2.6" fill="none" stroke-linecap="round"/>
<path d="M707,640 L707,628 M707,633 L715,636" stroke="#1e8a3a" stroke-width="2.4" fill="none" stroke-linecap="round"/>
<circle cx="683.6" cy="427.5" r="3.2" fill="#f01616"/>
<circle cx="718.3" cy="445.3" r="3.2" fill="#f01616"/>
<circle cx="811.9" cy="514.5" r="3.4" fill="#f01616"/>
<circle cx="648.2" cy="639.6" r="3.5" fill="#f01616"/>
<circle cx="711.4" cy="640.6" r="3.2" fill="#f01616"/>
<circle cx="717" cy="420" r="3.1" fill="#f01616"/>
<circle cx="731" cy="419" r="3.1" fill="#f01616"/>
<circle cx="722" cy="427" r="3" fill="#f01616"/>
<circle cx="732" cy="427" r="3" fill="#f01616"/>
<circle cx="570" cy="573" r="3.6" fill="#f01616"/>
<circle cx="578" cy="565" r="3.6" fill="#f01616"/>
<circle cx="723.6" cy="650.8" r="3.5" fill="#f01616"/>
<circle cx="734.8" cy="655" r="3.4" fill="#f01616"/>
<circle cx="725.6" cy="660" r="3.3" fill="#f01616"/>
<path d="M754,456 Q764,436 747,424" fill="none" stroke="#222" stroke-width="1.8" stroke-dasharray="4,3"/><path d="M739,421 L749,419 L746,428 Z" fill="#222"/>
<path d="M65.6,513.3 C66.7,510.9 68.5,502.3 72.0,499.0 C75.5,495.7 81.5,493.3 86.3,493.3 C91.0,493.3 97.0,495.7 100.5,499.0 C104.0,502.3 105.9,510.9 107.0,513.3" fill="none" stroke="#1c1c1c" stroke-width="1.45" stroke-linecap="round" stroke-linejoin="round"/>
<path d="M67.0,515.0 C67.8,513.7 70.0,508.8 72.0,507.0 C74.0,505.2 76.6,504.1 79.0,504.0 C81.4,503.9 83.8,506.8 86.3,506.7 C88.8,506.6 91.5,503.6 94.0,503.7 C96.5,503.8 99.1,505.1 101.0,507.0 C102.9,508.9 104.8,513.7 105.6,515.0" fill="none" stroke="#1c1c1c" stroke-width="1.45" stroke-linecap="round" stroke-linejoin="round"/>
<path d="M66.5,514.0 C65.8,514.3 63.1,514.3 62.6,516.0 C62.1,517.7 62.6,522.1 63.2,524.0 C63.8,525.9 65.8,526.8 66.3,527.4" fill="none" stroke="#1c1c1c" stroke-width="1.45" stroke-linecap="round" stroke-linejoin="round"/>
<path d="M106.0,514.0 C106.7,514.3 109.4,514.3 110.0,516.0 C110.6,517.7 110.0,522.1 109.4,524.0 C108.8,525.9 106.8,526.8 106.3,527.4" fill="none" stroke="#1c1c1c" stroke-width="1.45" stroke-linecap="round" stroke-linejoin="round"/>
<path d="M66.3,512.0 C66.4,515.0 65.9,525.2 67.0,530.0 C68.1,534.8 69.8,538.2 73.0,541.0 C76.2,543.8 81.9,546.7 86.3,546.7 C90.7,546.7 96.4,543.8 99.6,541.0 C102.8,538.2 104.5,534.8 105.6,530.0 C106.7,525.2 106.2,515.0 106.3,512.0" fill="none" stroke="#1c1c1c" stroke-width="1.45" stroke-linecap="round" stroke-linejoin="round"/>
<path d="M78.9,543.7 C80.1,544.4 83.7,548.1 86.3,548.1 C88.9,548.1 93.1,544.4 94.4,543.7" fill="none" stroke="#1c1c1c" stroke-width="1.45" stroke-linecap="round" stroke-linejoin="round"/>
<path d="M71.5,542.0 C71.6,542.7 71.9,545.3 72.0,546.0" fill="none" stroke="#1c1c1c" stroke-width="1.3" stroke-linecap="round" stroke-linejoin="round"/>
<path d="M101.5,542.0 C101.4,542.7 101.1,545.3 101.0,546.0" fill="none" stroke="#1c1c1c" stroke-width="1.3" stroke-linecap="round" stroke-linejoin="round"/>
<path d="M70.0,539.3 C65.7,540.8 51.3,543.1 44.0,548.0 C36.7,552.9 30.2,560.0 26.3,568.9 C22.4,577.8 21.1,593.0 20.4,601.5 C19.7,610.0 19.9,612.0 21.9,620.0 C23.9,628.0 30.5,644.7 32.2,649.6" fill="none" stroke="#1c1c1c" stroke-width="1.45" stroke-linecap="round" stroke-linejoin="round"/>
<path d="M103.3,539.3 C108.0,541.0 123.8,544.2 131.5,549.6 C139.2,555.0 145.6,563.2 149.3,571.9 C153.0,580.5 153.2,593.5 153.7,601.5 C154.2,609.5 153.8,611.9 152.2,620.0 C150.6,628.1 145.4,645.3 144.0,650.4" fill="none" stroke="#1c1c1c" stroke-width="1.45" stroke-linecap="round" stroke-linejoin="round"/>
<path d="M49.3,571.0 C49.3,572.9 50.8,576.9 49.3,582.2 C47.8,587.5 42.0,596.7 40.4,603.0 C38.8,609.3 39.6,613.5 39.6,620.0 C39.6,626.5 39.2,635.3 40.4,642.0 C41.6,648.7 45.9,657.0 47.0,660.0" fill="none" stroke="#1c1c1c" stroke-width="1.45" stroke-linecap="round" stroke-linejoin="round"/>
<path d="M124.8,572.0 C124.8,573.7 123.3,577.0 124.8,582.2 C126.3,587.4 132.1,596.7 133.7,603.0 C135.3,609.3 134.4,613.5 134.4,620.0 C134.4,626.5 134.8,635.3 133.6,642.0 C132.4,648.7 128.1,657.0 127.0,660.0" fill="none" stroke="#1c1c1c" stroke-width="1.45" stroke-linecap="round" stroke-linejoin="round"/>
<path d="M28.5,603.0 C29.4,603.0 32.4,603.0 34.0,603.3 C35.6,603.6 37.3,604.7 38.0,605.0" fill="none" stroke="#1c1c1c" stroke-width="1.4" stroke-linecap="round" stroke-linejoin="round"/>
<path d="M145.5,603.0 C144.6,603.0 141.6,603.0 140.0,603.3 C138.4,603.6 136.7,604.7 136.0,605.0" fill="none" stroke="#1c1c1c" stroke-width="1.4" stroke-linecap="round" stroke-linejoin="round"/>
<path d="M32.2,649.6 C31.7,651.8 29.0,659.6 29.3,663.0 C29.6,666.4 32.3,668.5 34.0,670.0 C35.7,671.5 38.4,672.7 39.6,671.9 C40.9,671.1 41.7,668.0 41.5,665.0 C41.3,662.0 39.0,655.8 38.5,654.0" fill="none" stroke="#1c1c1c" stroke-width="1.45" stroke-linecap="round" stroke-linejoin="round"/>
<path d="M144.0,650.4 C144.4,652.7 146.8,661.0 146.3,664.4 C145.8,667.8 142.6,669.1 141.0,670.5 C139.4,671.9 137.8,673.5 136.7,672.6 C135.6,671.7 134.4,668.1 134.5,665.0 C134.6,661.9 136.6,655.8 137.0,654.0" fill="none" stroke="#1c1c1c" stroke-width="1.45" stroke-linecap="round" stroke-linejoin="round"/>
<path d="M59.6,660.0 C64.4,660.9 79.1,665.2 88.5,665.2 C97.9,665.2 111.4,660.9 116.0,660.0" fill="none" stroke="#1c1c1c" stroke-width="1.45" stroke-linecap="round" stroke-linejoin="round"/>
<path d="M40.4,670.4 C40.6,673.1 40.7,680.2 41.9,686.7 C43.1,693.2 47.1,702.0 47.8,709.6 C48.5,717.2 45.9,725.8 46.3,732.6 C46.7,739.4 49.4,747.4 50.0,750.4" fill="none" stroke="#1c1c1c" stroke-width="1.45" stroke-linecap="round" stroke-linejoin="round"/>
<path d="M87.8,678.5 C87.0,681.6 84.8,691.0 83.0,697.0 C81.2,703.0 77.5,710.3 76.7,714.8 C75.9,719.2 79.3,717.3 78.1,723.7 C76.9,730.1 70.8,748.4 69.3,753.3" fill="none" stroke="#1c1c1c" stroke-width="1.45" stroke-linecap="round" stroke-linejoin="round"/>
<path d="M87.8,678.5 C88.6,681.6 90.7,691.0 92.5,697.0 C94.3,703.0 98.1,710.3 98.9,714.8 C99.7,719.2 96.3,717.3 97.4,723.7 C98.5,730.1 104.2,748.4 105.6,753.3" fill="none" stroke="#1c1c1c" stroke-width="1.45" stroke-linecap="round" stroke-linejoin="round"/>
<path d="M135.2,670.4 C134.8,673.8 134.2,684.3 133.0,691.0 C131.8,697.7 128.3,703.7 127.8,710.4 C127.3,717.1 130.4,724.3 130.0,731.0 C129.6,737.7 126.3,747.2 125.6,750.4" fill="none" stroke="#1c1c1c" stroke-width="1.45" stroke-linecap="round" stroke-linejoin="round"/>
<path d="M50.0,750.4 C48.5,753.1 41.9,762.6 41.1,766.7 C40.3,770.8 42.7,773.0 45.0,775.0 C47.3,777.0 51.2,778.2 55.0,778.5 C58.8,778.8 65.0,779.0 67.8,777.0 C70.5,775.0 71.2,770.7 71.5,766.7 C71.8,762.8 69.7,755.5 69.3,753.3" fill="none" stroke="#1c1c1c" stroke-width="1.45" stroke-linecap="round" stroke-linejoin="round"/>
<path d="M53.0,751.8 C54.2,752.1 57.7,753.2 60.0,753.5 C62.3,753.8 65.8,753.8 67.0,753.8" fill="none" stroke="#1c1c1c" stroke-width="1.3" stroke-linecap="round" stroke-linejoin="round"/>
<path d="M51.0,766.7 C52.2,766.6 55.6,765.6 58.0,766.0 C60.4,766.4 64.2,768.5 65.5,769.0" fill="none" stroke="#1c1c1c" stroke-width="1.3" stroke-linecap="round" stroke-linejoin="round"/>
<path d="M105.6,753.3 C105.2,755.8 102.9,764.3 103.3,768.1 C103.7,771.9 105.5,774.3 108.0,776.0 C110.5,777.7 114.3,778.3 118.0,778.5 C121.7,778.7 127.3,779.0 130.0,777.0 C132.7,775.0 135.1,771.1 134.4,766.7 C133.7,762.3 127.1,753.1 125.6,750.4" fill="none" stroke="#1c1c1c" stroke-width="1.45" stroke-linecap="round" stroke-linejoin="round"/>
<path d="M110.0,753.5 C111.2,753.5 114.8,753.8 117.0,753.5 C119.2,753.2 122.0,752.2 123.0,752.0" fill="none" stroke="#1c1c1c" stroke-width="1.3" stroke-linecap="round" stroke-linejoin="round"/>
<path d="M109.0,769.0 C110.2,768.5 113.5,766.4 116.0,766.0 C118.5,765.6 122.7,766.6 124.0,766.7" fill="none" stroke="#1c1c1c" stroke-width="1.3" stroke-linecap="round" stroke-linejoin="round"/>
<path d="M260.2,508.1 C260.8,505.8 261.1,497.3 264.0,494.0 C266.9,490.7 273.2,488.1 277.9,488.1 C282.6,488.1 288.9,490.7 292.0,494.0 C295.1,497.3 295.7,505.8 296.4,508.1" fill="none" stroke="#1c1c1c" stroke-width="1.45" stroke-linecap="round" stroke-linejoin="round"/>
<path d="M261.6,509.6 C262.7,508.0 265.6,501.9 268.3,500.0 C271.0,498.1 274.7,498.5 277.9,498.5 C281.1,498.5 284.5,498.0 287.5,500.0 C290.5,502.0 294.3,508.7 295.7,510.4" fill="none" stroke="#1c1c1c" stroke-width="1.45" stroke-linecap="round" stroke-linejoin="round"/>
<path d="M261.0,510.0 C260.7,510.3 259.4,510.7 259.4,512.0 C259.4,513.3 260.4,516.5 261.0,518.0 C261.6,519.5 262.8,520.2 263.1,520.7" fill="none" stroke="#1c1c1c" stroke-width="1.45" stroke-linecap="round" stroke-linejoin="round"/>
<path d="M295.0,510.0 C295.3,510.3 296.6,510.7 296.6,512.0 C296.6,513.3 295.6,516.5 295.0,518.0 C294.4,519.5 293.2,520.2 292.9,520.7" fill="none" stroke="#1c1c1c" stroke-width="1.45" stroke-linecap="round" stroke-linejoin="round"/>
<path d="M261.6,509.6 C261.9,511.7 262.4,518.6 263.5,522.0 C264.6,525.4 265.6,527.8 268.0,530.0 C270.4,532.2 274.6,535.5 277.9,535.5 C281.2,535.5 285.6,532.2 288.0,530.0 C290.4,527.8 291.2,525.3 292.5,522.0 C293.8,518.7 295.2,512.3 295.7,510.4" fill="none" stroke="#1c1c1c" stroke-width="1.45" stroke-linecap="round" stroke-linejoin="round"/>
<path d="M267.6,530.3 C267.6,531.5 267.9,535.6 267.6,537.7 C267.4,539.8 266.4,542.0 266.1,542.9" fill="none" stroke="#1c1c1c" stroke-width="1.5" stroke-linecap="round" stroke-linejoin="round"/>
<path d="M288.3,530.3 C288.3,531.5 288.0,535.6 288.3,537.7 C288.6,539.8 289.7,542.0 290.0,542.9" fill="none" stroke="#1c1c1c" stroke-width="1.5" stroke-linecap="round" stroke-linejoin="round"/>
<path d="M266.1,539.2 C262.3,540.9 248.7,545.7 243.1,549.6 C237.5,553.5 234.9,557.2 232.8,562.9 C230.7,568.6 231.4,576.4 230.5,583.6 C229.6,590.8 227.5,599.5 227.6,605.9 C227.7,612.3 229.9,618.0 231.0,622.0 C232.1,626.0 233.7,628.7 234.2,630.0" fill="none" stroke="#1c1c1c" stroke-width="1.45" stroke-linecap="round" stroke-linejoin="round"/>
<path d="M289.8,539.2 C294.1,540.9 309.8,545.4 315.7,549.6 C321.6,553.8 323.3,557.5 325.3,564.4 C327.3,571.3 326.8,582.9 327.5,591.0 C328.2,599.1 329.9,606.8 329.7,613.3 C329.4,619.8 326.6,627.2 326.0,630.0" fill="none" stroke="#1c1c1c" stroke-width="1.45" stroke-linecap="round" stroke-linejoin="round"/>
<path d="M246.8,565.1 C246.6,568.7 246.6,581.1 245.4,586.6 C244.2,592.1 240.0,594.0 239.4,598.4 C238.8,602.8 240.5,606.9 241.7,613.3 C242.9,619.7 246.0,633.0 246.8,637.0" fill="none" stroke="#1c1c1c" stroke-width="1.45" stroke-linecap="round" stroke-linejoin="round"/>
<path d="M309.0,565.1 C309.4,568.7 309.8,581.1 311.2,586.6 C312.6,592.1 316.4,594.0 317.2,598.4 C317.9,602.8 316.7,606.9 315.7,613.3 C314.7,619.7 311.9,633.0 311.2,637.0" fill="none" stroke="#1c1c1c" stroke-width="1.45" stroke-linecap="round" stroke-linejoin="round"/>
<path d="M234.2,630.0 C234.3,632.2 233.9,639.3 235.0,643.0 C236.1,646.7 239.4,649.9 241.0,652.0 C242.6,654.1 243.8,656.6 244.6,655.9 C245.4,655.2 246.4,650.6 246.0,648.0 C245.6,645.4 242.7,641.3 242.0,640.0" fill="none" stroke="#1c1c1c" stroke-width="1.45" stroke-linecap="round" stroke-linejoin="round"/>
<path d="M326.0,630.0 C325.5,632.5 324.7,641.3 323.0,645.0 C321.3,648.7 317.7,650.2 316.0,652.0 C314.3,653.8 313.4,656.6 312.7,655.9 C311.9,655.2 311.3,650.6 311.5,648.0 C311.7,645.4 313.6,641.3 314.0,640.0" fill="none" stroke="#1c1c1c" stroke-width="1.45" stroke-linecap="round" stroke-linejoin="round"/>
<path d="M258.0,638.9 C261.3,639.0 271.4,639.5 278.0,639.6 C284.6,639.7 294.6,639.6 297.9,639.6" fill="none" stroke="#1c1c1c" stroke-width="1.45" stroke-linecap="round" stroke-linejoin="round"/>
<path d="M244.6,655.9 C245.0,661.5 245.7,680.9 246.8,689.2 C247.9,697.5 250.7,695.6 251.3,705.5 C251.9,715.4 250.6,741.2 250.5,748.4" fill="none" stroke="#1c1c1c" stroke-width="1.45" stroke-linecap="round" stroke-linejoin="round"/>
<path d="M278.7,648.5 C278.1,654.0 276.5,672.8 275.0,681.8 C273.5,690.8 270.6,695.8 269.8,702.5 C269.1,709.2 271.2,714.1 270.5,721.8 C269.8,729.4 266.2,744.0 265.3,748.4" fill="none" stroke="#1c1c1c" stroke-width="1.45" stroke-linecap="round" stroke-linejoin="round"/>
<path d="M278.7,648.5 C279.3,654.0 280.9,672.8 282.4,681.8 C283.9,690.8 286.6,695.8 287.5,702.5 C288.4,709.2 286.5,714.1 287.5,721.8 C288.5,729.4 292.5,744.0 293.5,748.4" fill="none" stroke="#1c1c1c" stroke-width="1.45" stroke-linecap="round" stroke-linejoin="round"/>
<path d="M312.7,655.9 C312.2,661.5 310.9,680.9 309.8,689.2 C308.7,697.5 306.2,695.6 306.0,705.5 C305.8,715.4 307.9,741.2 308.3,748.4" fill="none" stroke="#1c1c1c" stroke-width="1.45" stroke-linecap="round" stroke-linejoin="round"/>
<path d="M250.5,748.4 C248.5,751.4 240.7,761.4 238.7,766.2 C236.7,771.0 236.2,775.6 238.7,777.3 C241.2,779.0 248.7,779.4 253.5,776.6 C258.3,773.8 265.5,765.0 267.6,760.3 C269.7,755.6 266.4,750.4 266.1,748.4" fill="none" stroke="#1c1c1c" stroke-width="1.45" stroke-linecap="round" stroke-linejoin="round"/>
<path d="M254.0,750.6 C256.0,750.4 264.0,749.4 266.0,749.2" fill="none" stroke="#1c1c1c" stroke-width="1.3" stroke-linecap="round" stroke-linejoin="round"/>
<path d="M292.0,748.4 C291.8,750.1 288.5,754.1 290.5,758.8 C292.5,763.5 298.9,773.4 303.8,776.6 C308.7,779.8 317.2,779.1 320.1,778.1 C323.0,777.1 322.9,775.2 320.9,770.7 C318.9,766.2 310.4,754.6 308.3,751.4" fill="none" stroke="#1c1c1c" stroke-width="1.45" stroke-linecap="round" stroke-linejoin="round"/>
<path d="M295.0,750.6 C296.8,750.8 304.2,751.8 306.0,752.0" fill="none" stroke="#1c1c1c" stroke-width="1.3" stroke-linecap="round" stroke-linejoin="round"/>
<path d="M41.7,222.5 C40.5,224.6 36.1,229.9 34.2,235.0 C32.3,240.1 30.7,247.0 30.3,253.3 C29.9,259.6 30.6,267.1 32.0,273.0 C33.5,278.9 35.5,284.3 39.0,289.0 C42.5,293.7 47.5,298.3 53.0,301.0 C58.5,303.7 66.6,304.6 72.0,305.2 C77.4,305.8 80.7,305.6 85.5,304.6 C90.3,303.7 95.8,302.2 100.7,299.5 C105.6,296.8 111.5,293.2 115.0,288.3 C118.5,283.4 120.2,275.8 121.6,270.0 C123.0,264.2 123.7,259.1 123.3,253.3 C122.9,247.5 121.1,240.1 119.2,235.0 C117.3,229.9 113.0,224.6 111.7,222.5" fill="none" stroke="#1c1c1c" stroke-width="2.0" stroke-linecap="round" stroke-linejoin="round"/>
<path d="M55.7,191.3 C56.5,189.8 57.2,184.8 60.7,182.3 C64.2,179.8 71.4,176.3 76.7,176.3 C82.0,176.3 89.2,179.8 92.7,182.3 C96.2,184.8 96.9,189.8 97.7,191.3" fill="none" stroke="#1c1c1c" stroke-width="2.0" stroke-linecap="round" stroke-linejoin="round"/>
<path d="M60.3,195.4 A15.0,15.0 0 1 0 56.7,219.2 Q59.7,220.0 62.7,217.7" fill="none" stroke="#1c1c1c" stroke-width="2.0" stroke-linecap="round"/>
<path d="M93.1,195.4 A15.0,15.0 0 1 1 96.7,219.2 Q93.7,220.0 90.7,217.7" fill="none" stroke="#1c1c1c" stroke-width="2.0" stroke-linecap="round"/>
<circle cx="69.7" cy="186.8" r="2.0" fill="#111"/><circle cx="82.7" cy="186.8" r="2.0" fill="#111"/>
<path d="M73.2,177.5 L80.2,177.5 L76.7,180.3 Z" fill="#111"/>
<path d="M61.7,183.3 L48.7,175.8 M61.7,184.8 L48.7,180.3 M61.7,186.3 L48.7,185.3 M91.7,183.3 L104.7,175.8 M91.7,184.8 L104.7,180.3 M91.7,186.3 L104.7,185.3" stroke="#8a8270" stroke-width="0.9" fill="none"/>
<path d="M72.2,305.1 C72.4,306.9 71.8,312.2 73.2,315.8 C74.6,319.4 77.0,324.2 80.4,327.0 C83.8,329.8 88.5,331.8 93.6,332.6 C98.7,333.4 104.6,333.2 110.9,331.6 C117.2,330.0 124.9,326.8 131.3,323.0 C137.8,319.2 144.6,315.5 149.6,308.7 C154.6,301.9 159.4,286.6 161.3,282.2" fill="none" stroke="#1c1c1c" stroke-width="1.8" stroke-linecap="round" stroke-linejoin="round"/>
<path d="M79.9,306.2 C79.9,307.8 78.8,312.7 79.9,315.8 C81.0,318.9 83.0,322.9 86.5,325.0 C90.0,327.1 94.9,328.5 100.7,328.6 C106.5,328.7 114.3,327.8 121.1,325.5 C127.9,323.2 134.8,322.0 141.5,314.8 C148.2,307.6 158.0,287.6 161.3,282.2" fill="none" stroke="#1c1c1c" stroke-width="1.3" stroke-linecap="round" stroke-linejoin="round"/>
<path d="M235.6,234.8 C234.8,238.0 231.5,248.3 230.8,254.1 C230.1,259.9 230.2,264.3 231.4,269.7 C232.6,275.1 234.9,282.2 238.0,286.6 C241.1,291.0 245.5,294.1 250.1,296.2 C254.7,298.3 260.5,299.3 265.7,299.2 C270.9,299.1 277.0,297.9 281.4,295.6 C285.8,293.3 289.4,289.9 292.2,285.4 C295.0,280.9 297.2,273.7 298.2,268.5 C299.2,263.3 299.2,259.7 298.2,254.1 C297.2,248.5 293.2,238.0 292.2,234.8" fill="none" stroke="#1c1c1c" stroke-width="2.0" stroke-linecap="round" stroke-linejoin="round"/>
<path d="M244.7,195.6 C245.5,194.3 246.0,189.9 249.1,187.7 C252.1,185.6 258.4,182.5 263.0,182.5 C267.6,182.5 273.9,185.6 276.9,187.7 C280.0,189.9 280.5,194.3 281.3,195.6" fill="none" stroke="#1c1c1c" stroke-width="2.0" stroke-linecap="round" stroke-linejoin="round"/>
<path d="M248.7,199.1 A13.05,13.05 0 1 0 245.6,219.9 Q248.2,220.6 250.9,218.6" fill="none" stroke="#1c1c1c" stroke-width="2.0" stroke-linecap="round"/>
<path d="M277.3,199.1 A13.05,13.05 0 1 1 280.4,219.9 Q277.8,220.6 275.1,218.6" fill="none" stroke="#1c1c1c" stroke-width="2.0" stroke-linecap="round"/>
<circle cx="256.91" cy="191.645" r="1.74" fill="#111"/><circle cx="268.22" cy="191.645" r="1.74" fill="#111"/>
<path d="M259.955,183.554 L266.045,183.554 L263,185.99 Z" fill="#111"/>
<path d="M249.9,188.6 L238.6,182.1 M249.9,189.9 L238.6,186.0 M249.9,191.2 L238.6,190.3 M276.1,188.6 L287.4,182.1 M276.1,189.9 L287.4,186.0 M276.1,191.2 L287.4,190.3" stroke="#8a8270" stroke-width="0.9" fill="none"/>
<path d="M262.1,299.2 C262.5,300.9 262.9,305.9 264.5,309.4 C266.1,312.9 268.7,317.7 271.7,320.3 C274.7,322.9 278.2,324.7 282.6,325.1 C287.0,325.5 292.6,324.9 298.2,322.7 C303.8,320.5 310.9,316.2 316.3,311.8 C321.7,307.4 326.8,301.4 330.7,296.2 C334.6,291.0 338.2,283.1 339.7,280.5" fill="none" stroke="#1c1c1c" stroke-width="1.8" stroke-linecap="round" stroke-linejoin="round"/>
<path d="M269.3,299.8 C269.2,301.4 267.9,306.4 268.7,309.4 C269.5,312.4 271.3,315.8 274.2,317.8 C277.1,319.8 281.2,321.6 286.2,321.5 C291.2,321.4 298.2,319.8 304.2,317.2 C310.2,314.6 316.4,311.9 322.3,305.8 C328.2,299.7 336.8,284.7 339.7,280.5" fill="none" stroke="#1c1c1c" stroke-width="1.3" stroke-linecap="round" stroke-linejoin="round"/>
<path d="M41.7,222.0 C41.4,223.7 39.8,231.0 40.0,232.0 C40.2,233.0 42.5,228.7 43.0,228.0" fill="none" stroke="#1c1c1c" stroke-width="1.5" stroke-linecap="round" stroke-linejoin="round"/>
<path d="M111.7,222.0 C112.0,223.7 113.6,231.0 113.4,232.0 C113.2,233.0 110.9,228.7 110.4,228.0" fill="none" stroke="#1c1c1c" stroke-width="1.5" stroke-linecap="round" stroke-linejoin="round"/>
<path d="M236.5,229.0 C236.3,230.0 235.4,233.1 235.6,234.8 C235.8,236.5 237.2,238.3 237.5,239.0" fill="none" stroke="#1c1c1c" stroke-width="1.4" stroke-linecap="round" stroke-linejoin="round"/>
<path d="M291.3,229.0 C291.4,230.0 292.4,233.1 292.2,234.8 C292.0,236.5 290.6,238.3 290.3,239.0" fill="none" stroke="#1c1c1c" stroke-width="1.4" stroke-linecap="round" stroke-linejoin="round"/>
<path d="M61.7,966.5 L255,986.5 L255,990.5 L61.7,970.5 Z" fill="#fafafa" stroke="#222" stroke-width="1.3"/>
<path d="M58.5,961.5 L58.5,969 M62.5,961.5 L62.5,968.5" stroke="#222" stroke-width="1.1"/>
<path d="M252.5,981.5 L252.5,988.5 M256.5,981.5 L256.5,989" stroke="#222" stroke-width="1.1"/>
<path d="M155.5,979 C149,982 134.5,992 134,1014 L183,1014 C182.5,992 167,982 158.5,979 Z" fill="#fff" stroke="#1c1c1c" stroke-width="1.8" stroke-linejoin="round"/>
<circle cx="156.8" cy="976.5" r="3.6" fill="#111"/>
<path d="M18.7,948 L104.0,948 L102.0,959 Q101.0,961.5 97.0,961.5 L25.7,961.5 Q21.7,961.5 20.7,959 Z" fill="#fdfdfb" stroke="#1c1c1c" stroke-width="1.6" stroke-linejoin="round"/>
<rect x="16.7" y="940.5" width="89.3" height="7.5" rx="3.6" fill="#f4f2ec" stroke="#1c1c1c" stroke-width="1.5"/>
<path d="M19.7,944.6 L103.0,944.6" stroke="#333" stroke-width="1.1"/>
<path d="M212.7,968 L298.0,968 L296.0,979 Q295.0,981.5 291.0,981.5 L219.7,981.5 Q215.7,981.5 214.7,979 Z" fill="#fdfdfb" stroke="#1c1c1c" stroke-width="1.6" stroke-linejoin="round"/>
<rect x="210.7" y="960.5" width="89.3" height="7.5" rx="3.6" fill="#f4f2ec" stroke="#1c1c1c" stroke-width="1.5"/>
<path d="M213.7,964.6 L297.0,964.6" stroke="#333" stroke-width="1.1"/>
<text x="433" y="110" font-size="27.6" font-weight="700" fill="#000" stroke="#000" stroke-width="0.55" text-anchor="start" >Right after weight loss</text>
<text x="446" y="987.6" font-size="27.7" font-weight="700" fill="#000" stroke="#000" stroke-width="0.55" text-anchor="start" >Long after weight loss</text>
<text x="544" y="243" font-size="23.9" font-weight="400" fill="#000" stroke="#000" stroke-width="0.15" text-anchor="start" >CD7<tspan dy="-7.5" font-size="14">+</tspan><tspan dy="7.5"> monocytes</tspan></text>
<text x="724.5" y="408.5" font-size="23.4" font-weight="400" fill="#000" stroke="#000" stroke-width="0.15" text-anchor="start" >FGL2</text>
<text x="409.5" y="541.5" font-size="28" font-weight="400" fill="#000" stroke="#000" stroke-width="0.15" text-anchor="start" >2nd HFD</text>
<text x="865.5" y="581" font-size="28" font-weight="700" fill="#000" stroke="#000" stroke-width="0.55" text-anchor="start" >Thermogenesis</text>
<text x="877.5" y="728" font-size="28" font-weight="700" fill="#000" stroke="#000" stroke-width="0.55" text-anchor="start" >Weight regain</text>
<text x="127.8" y="225" font-size="28" font-weight="400" fill="#000" stroke="#000" stroke-width="0.15" text-anchor="start" >Dieting</text>
<text x="144.3" y="553" font-size="28" font-weight="400" fill="#000" stroke="#000" stroke-width="0.15" text-anchor="start" >Dieting</text>
<text x="22" y="898" font-size="23.8" font-weight="700" fill="#113a8a" stroke="#113a8a" stroke-width="0.55" text-anchor="start" >Weight</text>
<text x="26" y="926" font-size="23.8" font-weight="700" fill="#113a8a" stroke="#113a8a" stroke-width="0.55" text-anchor="start" >regain</text>
<text x="222" y="914.5" font-size="23.8" font-weight="700" fill="#b8101c" stroke="#b8101c" stroke-width="0.55" text-anchor="start" >CD7<tspan dy="-7" font-size="14.5">+</tspan></text>
<text x="187.5" y="942.5" font-size="23.8" font-weight="700" fill="#b8101c" stroke="#b8101c" stroke-width="0.55" text-anchor="start" >monocytes</text>
<text x="537.5" y="915" font-size="23.9" font-weight="400" fill="#000" stroke="#000" stroke-width="0.15" text-anchor="start" >FLT3L</text>
</svg>
</body></html>
